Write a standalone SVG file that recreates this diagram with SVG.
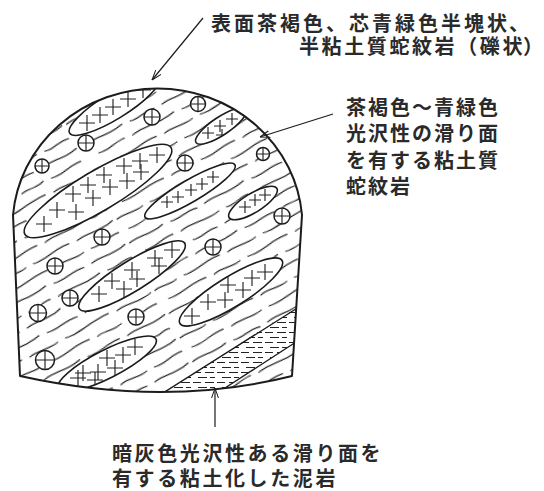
<svg xmlns="http://www.w3.org/2000/svg" xmlns:xlink="http://www.w3.org/1999/xlink" width="544" height="491" viewBox="0 0 544 491">
  <style>
    .ink { stroke: #1c1c1c; fill: none; stroke-linecap: round; stroke-linejoin: round; }
    .outline { stroke-width: 2; }
    .wave { stroke: #222; stroke-width: 1.1; fill: none; stroke-linecap: round; }
    .lens { fill: #fff; stroke: #1c1c1c; stroke-width: 1.6; }
    .cross { stroke: #222; stroke-width: 1.15; fill: none; }
    .pebble { fill: #fff; stroke: #1c1c1c; stroke-width: 1.5; }
    .lead { stroke: #1c1c1c; stroke-width: 1.2; fill: none; }
    .label { font-family: "Noto Sans CJK JP", "Noto Sans", sans-serif; font-size: 20px; font-weight: 700; fill: #2a2a2a; }
  </style>
  <defs>
    <!-- sheared serpentine texture, drawn horizontally and rotated -->
    <pattern id="shear" patternUnits="userSpaceOnUse" width="200" height="120" patternTransform="rotate(-28) scale(1.12)">
      <g class="wave">
        <path d="M0,6 c10,-3 20,2.5 34,-1"/>
        <path d="M42,6 c8,2.5 16,-2.5 26,0.5"/>
        <path d="M76,6 c12,-3 24,3 40,-1.5"/>
        <path d="M124,6 c9,2.5 18,-2.5 30,0"/>
        <path d="M162,6 c10,-2.5 20,3 34,-1"/>
        <path d="M10,18 c8,2.5 17,-2.5 28,-1"/>
        <path d="M46,18 c11,-3 23,3 38,0"/>
        <path d="M92,18 c7,2 13,-2 22,-1"/>
        <path d="M122,18 c13,-3 25,3 42,-1"/>
        <path d="M172,18 c7,2.5 14,-2 24,0"/>
        <path d="M4,30 c12,-3 24,3 40,-1"/>
        <path d="M52,30 c7,2.5 14,-2.5 24,0"/>
        <path d="M84,30 c10,-2.5 20,3 34,-1.5"/>
        <path d="M126,30 c8,2.5 17,-2.5 28,0"/>
        <path d="M162,30 c11,-3 22,3 36,-1"/>
        <path d="M14,42 c8,2.5 16,-2 26,-1"/>
        <path d="M48,42 c13,-3 25,3 42,-1"/>
        <path d="M98,42 c9,2.5 18,-2.5 30,0"/>
        <path d="M136,42 c7,-2 13,2 22,-1"/>
        <path d="M166,42 c9,2.5 18,-2.5 30,-1"/>
        <path d="M0,54 c7,-2 13,2 22,0"/>
        <path d="M30,54 c11,2.5 22,-3 36,-1"/>
        <path d="M74,54 c8,-2.5 17,2.5 28,0"/>
        <path d="M110,54 c13,3 26,-3 44,-1.5"/>
        <path d="M162,54 c10,-2.5 20,3 34,0"/>
        <path d="M8,66 c11,2.5 23,-3 38,-1"/>
        <path d="M54,66 c8,-2.5 16,2 26,0"/>
        <path d="M88,66 c12,3 24,-3 40,-1"/>
        <path d="M136,66 c7,-2 14,2.5 24,0"/>
        <path d="M168,66 c8,2.5 17,-2.5 28,-1"/>
        <path d="M2,78 c9,-2.5 18,2.5 30,-1"/>
        <path d="M40,78 c8,2.5 17,-2.5 28,0"/>
        <path d="M76,78 c11,-3 22,3 36,-1"/>
        <path d="M120,78 c10,2.5 19,-2.5 32,-1"/>
        <path d="M160,78 c11,-3 23,3 38,-1"/>
        <path d="M12,90 c13,2.5 25,-3 42,-1"/>
        <path d="M62,90 c7,-2 13,2 22,0"/>
        <path d="M92,90 c10,2.5 20,-2.5 34,-1"/>
        <path d="M134,90 c12,-3 24,3 40,-1"/>
        <path d="M180,90 c5,2 10,-2 16,0"/>
        <path d="M0,102 c8,-2.5 16,2.5 26,0"/>
        <path d="M34,102 c12,2.5 24,-3 40,-1"/>
        <path d="M82,102 c8,-2.5 16,2 26,0"/>
        <path d="M116,102 c11,2.5 22,-3 36,-1"/>
        <path d="M160,102 c11,-2.5 22,3 36,-1"/>
        <path d="M6,114 c10,2.5 19,-2.5 32,-1"/>
        <path d="M46,114 c9,-2.5 18,2.5 30,0"/>
        <path d="M84,114 c13,2.5 25,-3 42,-1"/>
        <path d="M134,114 c8,-2.5 16,2 26,0"/>
        <path d="M168,114 c8,2.5 17,-2.5 28,-1"/>
      </g>
    </pattern>
    <!-- clayey mudstone: short horizontal dashes -->
    <pattern id="mud" patternUnits="userSpaceOnUse" width="24" height="10">
      <path d="M1,2.5h8 M13,2.5h9 M6,7.5h9 M18,7.5h5" stroke="#222" stroke-width="1" fill="none"/>
    </pattern>
    <marker id="head" viewBox="0 0 10 8" refX="10" refY="4" markerUnits="userSpaceOnUse" markerWidth="10" markerHeight="8" orient="auto">
      <path d="M0,0.6 L10,4 L0,7.4" fill="none" stroke="#1c1c1c" stroke-width="1"/>
    </marker>
    <path id="face" d="M13,215 A145,138 0 0 1 302,215 L292,376 Q165,408 20,376 Z"/>
    <clipPath id="faceClip"><use xlink:href="#face"/></clipPath>
    <ellipse id="l1" cx="114" cy="106" rx="52" ry="13" transform="rotate(-31.5 114 106)"/>
    <ellipse id="l2" cx="221" cy="126" rx="30" ry="9" transform="rotate(-33.7 221 126)"/>
    <ellipse id="l3" cx="98" cy="191" rx="85" ry="20" transform="rotate(-30.7 98 191)"/>
    <ellipse id="l4" cx="190" cy="191" rx="52" ry="11" transform="rotate(-30.3 190 191)"/>
    <ellipse id="l5" cx="253" cy="203" rx="28" ry="9.5" transform="rotate(-31.7 253 203)"/>
    <ellipse id="l6" cx="132" cy="276" rx="62" ry="15" transform="rotate(-31.8 132 276)"/>
    <ellipse id="l7" cx="231" cy="292" rx="60" ry="15" transform="rotate(-31.7 231 292)"/>
    <ellipse id="l8" cx="107" cy="364" rx="55" ry="14" transform="rotate(-27 107 364)"/>
    <clipPath id="c1"><use xlink:href="#l1"/></clipPath>
    <clipPath id="c2"><use xlink:href="#l2"/></clipPath>
    <clipPath id="c3"><use xlink:href="#l3"/></clipPath>
    <clipPath id="c4"><use xlink:href="#l4"/></clipPath>
    <clipPath id="c5"><use xlink:href="#l5"/></clipPath>
    <clipPath id="c6"><use xlink:href="#l6"/></clipPath>
    <clipPath id="c7"><use xlink:href="#l7"/></clipPath>
    <clipPath id="c8"><use xlink:href="#l8"/></clipPath>
    <!-- cross symbols used inside the blocks -->
    <path id="x" d="M-8,0 h16 M0,-8 v16"/>
    <path id="xs" d="M-6,0 h12 M0,-6 v12"/>
  </defs>

  <rect width="544" height="491" fill="#fff"/>

  <!-- tunnel face -->
  <g id="tunnel-face">
    <use xlink:href="#face" fill="#fff"/>
    <use xlink:href="#face" fill="url(#shear)"/>

    <!-- mudstone band at lower right -->
    <g id="mudstone" clip-path="url(#faceClip)">
      <polygon points="160,395 300,305 310,305 310,342 294,343 225,388 225,420 160,420" fill="#fff"/>
      <polygon points="160,395 300,305 310,305 310,342 294,343 225,388 225,420 160,420" fill="url(#mud)"/>
      <path class="ink" stroke-width="1.4" d="M163,393 L299,307 M225,388 L296,342"/>
    </g>

    <!-- serpentine blocks with crosses -->
    <g id="blocks" clip-path="url(#faceClip)">
      <use xlink:href="#l1" class="lens"/>
      <g class="cross" clip-path="url(#c1)">
        <use xlink:href="#x" x="143" y="90"/><use xlink:href="#x" x="128" y="99"/>
        <use xlink:href="#x" x="113" y="107"/><use xlink:href="#x" x="100" y="115"/>
        <use xlink:href="#x" x="87" y="123"/>
      </g>
      <use xlink:href="#l2" class="lens"/>
      <g class="cross" clip-path="url(#c2)">
        <use xlink:href="#xs" x="208" y="133"/><use xlink:href="#xs" x="220" y="126"/>
        <use xlink:href="#xs" x="232" y="119"/><use xlink:href="#xs" x="222" y="135"/>
      </g>
      <use xlink:href="#l3" class="lens"/>
      <g class="cross" clip-path="url(#c3)">
        <use xlink:href="#x" x="157" y="155"/><use xlink:href="#x" x="140" y="161"/>
        <use xlink:href="#x" x="124" y="166"/><use xlink:href="#x" x="141" y="172"/>
        <use xlink:href="#x" x="104" y="175"/><use xlink:href="#x" x="127" y="181"/>
        <use xlink:href="#x" x="110" y="187"/><use xlink:href="#x" x="88" y="185"/>
        <use xlink:href="#x" x="73" y="194"/><use xlink:href="#x" x="93" y="198"/>
        <use xlink:href="#x" x="57" y="210"/><use xlink:href="#x" x="76" y="212"/>
        <use xlink:href="#x" x="44" y="224"/>
      </g>
      <use xlink:href="#l4" class="lens"/>
      <g class="cross" clip-path="url(#c4)">
        <use xlink:href="#xs" x="167" y="202"/><use xlink:href="#xs" x="178" y="197"/>
        <use xlink:href="#xs" x="191" y="190"/><use xlink:href="#xs" x="202" y="184"/>
        <use xlink:href="#xs" x="213" y="177"/>
      </g>
      <use xlink:href="#l5" class="lens"/>
      <g class="cross" clip-path="url(#c5)">
        <use xlink:href="#xs" x="245" y="207"/><use xlink:href="#xs" x="255" y="200"/>
        <use xlink:href="#xs" x="265" y="195"/>
      </g>
      <use xlink:href="#l6" class="lens"/>
      <g class="cross" clip-path="url(#c6)">
        <use xlink:href="#x" x="172" y="250"/><use xlink:href="#x" x="155" y="258"/>
        <use xlink:href="#x" x="159" y="266"/><use xlink:href="#x" x="132" y="270"/>
        <use xlink:href="#x" x="137" y="279"/><use xlink:href="#x" x="112" y="281"/>
        <use xlink:href="#x" x="124" y="289"/><use xlink:href="#x" x="99" y="294"/>
      </g>
      <use xlink:href="#l7" class="lens"/>
      <g class="cross" clip-path="url(#c7)">
        <use xlink:href="#x" x="265" y="272"/><use xlink:href="#x" x="252" y="278"/>
        <use xlink:href="#x" x="243" y="290"/><use xlink:href="#x" x="228" y="285"/>
        <use xlink:href="#x" x="225" y="300"/><use xlink:href="#x" x="208" y="302"/>
        <use xlink:href="#x" x="192" y="316"/>
      </g>
      <use xlink:href="#l8" class="lens"/>
      <g class="cross" clip-path="url(#c8)">
        <use xlink:href="#x" x="135" y="347"/><use xlink:href="#x" x="123" y="355"/>
        <use xlink:href="#x" x="107" y="358"/><use xlink:href="#x" x="115" y="368"/>
        <use xlink:href="#x" x="98" y="372"/><use xlink:href="#x" x="83" y="373"/>
        <use xlink:href="#x" x="95" y="380"/><use xlink:href="#x" x="78" y="378"/>
      </g>
    </g>

    <!-- gravel-like pebbles -->
    <g id="pebbles">
      <g transform="translate(152,117)"><circle class="pebble" r="8"/><path class="cross" d="M-8,0h16M0,-8v16"/></g>
      <g transform="translate(86,143)"><circle class="pebble" r="8"/><path class="cross" d="M-8,0h16M0,-8v16"/></g>
      <g transform="translate(42,166)"><circle class="pebble" r="7"/><path class="cross" d="M-7,0h14M0,-7v14"/></g>
      <g transform="translate(198,104)"><circle class="pebble" r="7.5"/><path class="cross" d="M-7.5,0h15M0,-7.5v15"/></g>
      <g transform="translate(263,154)"><circle class="pebble" r="6.5"/><path class="cross" d="M-6.5,0h13M0,-6.5v13"/></g>
      <g transform="translate(185,163)"><circle class="pebble" r="8"/><path class="cross" d="M-8,0h16M0,-8v16"/></g>
      <g transform="translate(282,216)"><circle class="pebble" r="8"/><path class="cross" d="M-8,0h16M0,-8v16"/></g>
      <g transform="translate(102,237)"><circle class="pebble" r="8"/><path class="cross" d="M-8,0h16M0,-8v16"/></g>
      <g transform="translate(55,266)"><circle class="pebble" r="8"/><path class="cross" d="M-8,0h16M0,-8v16"/></g>
      <g transform="translate(70,298)"><circle class="pebble" r="8"/><path class="cross" d="M-8,0h16M0,-8v16"/></g>
      <g transform="translate(38,313)"><circle class="pebble" r="8.5"/><path class="cross" d="M-8.5,0h17M0,-8.5v17"/></g>
      <g transform="translate(136,317)"><circle class="pebble" r="8"/><path class="cross" d="M-8,0h16M0,-8v16"/></g>
      <g transform="translate(45,360)"><circle class="pebble" r="9.5"/><path class="cross" d="M-9.5,0h19M0,-9.5v19"/></g>
      <g transform="translate(213,247)"><circle class="pebble" r="8"/><path class="cross" d="M-8,0h16M0,-8v16"/></g>
    </g>

    <use xlink:href="#face" class="ink outline"/>
  </g>

  <!-- leader lines -->
  <g id="connectors">
    <line class="lead" x1="203" y1="18" x2="152" y2="80" marker-end="url(#head)"/>
    <line class="lead" x1="333" y1="114" x2="260" y2="137" marker-end="url(#head)"/>
    <line class="lead" x1="215" y1="427" x2="215" y2="388" marker-end="url(#head)"/>
  </g>

  <g id="label-crown">
    <text class="label" x="211 234 257 280 303 326 349 372 395 418 441 464 487 509" y="31">表面茶褐色、芯青緑色半塊状、</text>
    <text class="label" x="299 321.6 344.2 366.8 389.4 412 434.6 457.2 479.8 502.4 523" y="54">半粘土質蛇紋岩（礫状）</text>
  </g>
  <g id="label-serpentinite">
    <text class="label" x="346 368 390 412 434 456 478" y="115">茶褐色～青緑色</text>
    <text class="label" x="346 368 390 412 434 456 478" y="141">光沢性の滑り面</text>
    <text class="label" x="346 368 390 412 434 456 478" y="168">を有する粘土質</text>
    <text class="label" x="346 368 390" y="194">蛇紋岩</text>
  </g>
  <g id="label-mudstone">
    <text class="label" x="112 134.6 157.2 179.8 202.4 225 247.6 270.2 292.8 315.4 338 360.6" y="461">暗灰色光沢性ある滑り面を</text>
    <text class="label" x="112 134.6 157.2 179.8 202.4 225 247.6 270.2 292.8 315.4" y="486">有する粘土化した泥岩</text>
  </g>
</svg>
